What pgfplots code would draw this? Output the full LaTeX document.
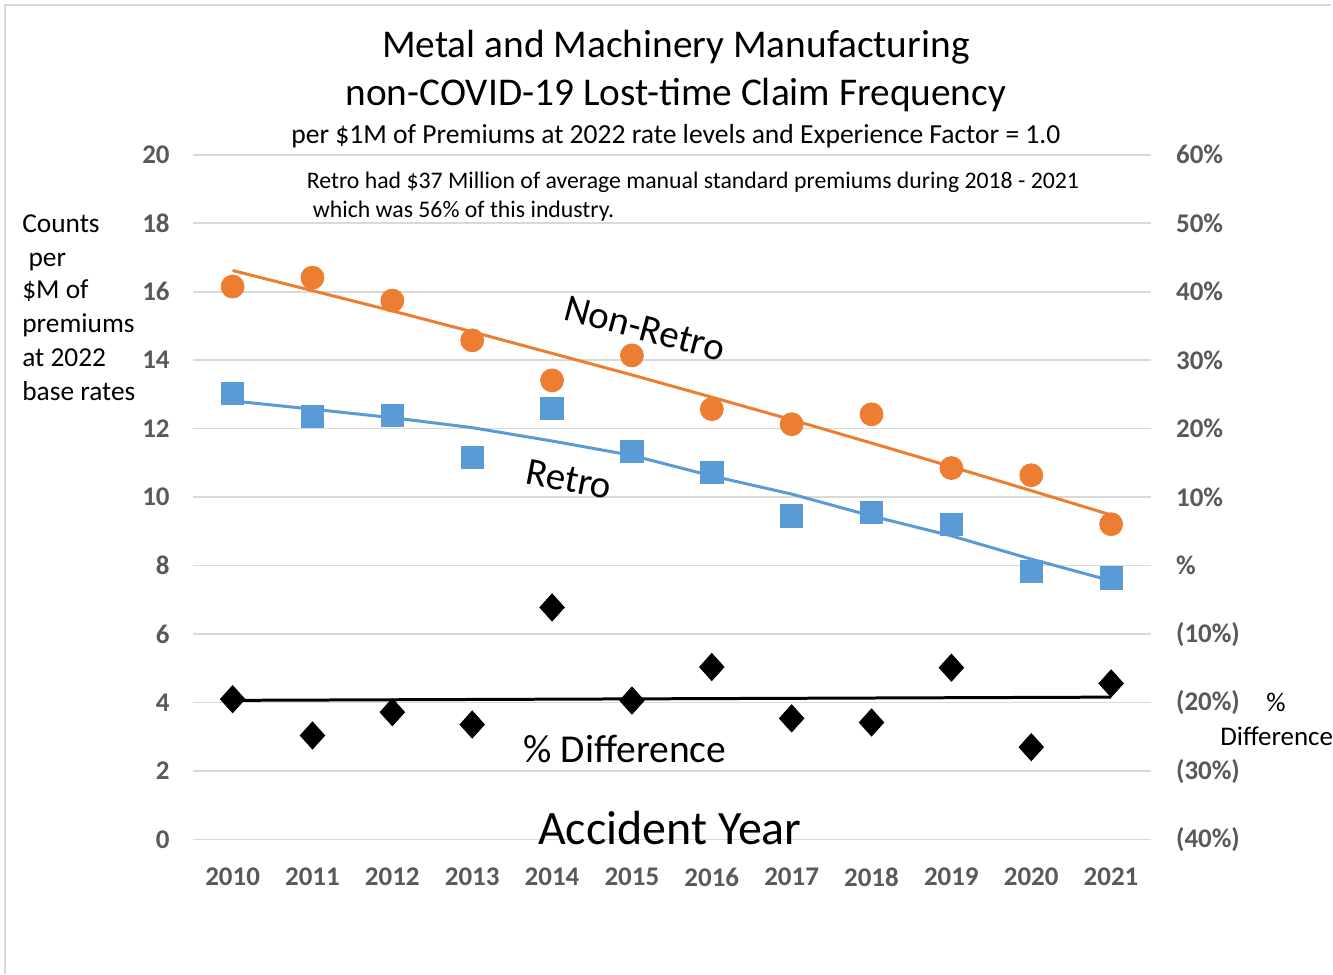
\documentclass[border=0pt]{standalone}
\usepackage{pgfplots}
\pgfplotsset{compat=1.18}
\usepackage{fontspec}
\setmainfont{Carlito}
\definecolor{cOrange}{HTML}{ED7D31}
\definecolor{cBlue}{HTML}{5B9BD5}
\definecolor{cGrid}{HTML}{D9D9D9}
\definecolor{cTick}{HTML}{595959}
\begin{document}
\begin{tikzpicture}
\begin{scope}[x=0.5pt,y=0.5pt]
\useasboundingbox (0,0) rectangle (1333,976);
\draw[cGrid, line width=0.8pt] (5,0) -- (5,971) -- (1333,971);
\end{scope}
\begin{axis}[
  at={(96.5pt,67.5pt)}, anchor=south west,
  scale only axis, width=480pt, height=343pt,
  xmin=2009.5, xmax=2021.5, ymin=0, ymax=20,
  ytick={0,2,...,20}, xtick={2010,...,2021},
  axis line style={draw=none}, major tick length=0pt,
  ymajorgrids, grid style={cGrid, line width=0.8pt},
  /pgf/number format/assume math mode=true,
  /pgf/number format/1000 sep={},
  ticklabel style={font=\fontsize{13.5}{16}\selectfont\bfseries, text=cTick},
  yticklabel style={xshift=-8pt},
  xticklabel style={yshift=-10.5pt},
  clip=false,
]
\addplot[cOrange, only marks, mark=*, mark size=5.75pt, mark options={fill=cOrange, draw=cOrange}] coordinates {
(2010,16.15) (2011,16.41) (2012,15.74) (2013,14.58) (2014,13.41) (2015,14.14)
(2016,12.57) (2017,12.13) (2018,12.42) (2019,10.85) (2020,10.64) (2021,9.21)};
\addplot[cBlue, only marks, mark=square*, mark size=5.6pt, mark options={fill=cBlue, draw=cBlue}] coordinates {
(2010,13.03) (2011,12.36) (2012,12.39) (2013,11.17) (2014,12.59) (2015,11.34)
(2016,10.73) (2017,9.45) (2018,9.56) (2019,9.21) (2020,7.84) (2021,7.64)};
\addplot[cOrange, line width=1.5pt, no marks] coordinates {
(2010,16.62) (2011,16.03) (2012,15.44) (2013,14.83) (2014,14.20) (2015,13.57)
(2016,12.92) (2017,12.26) (2018,11.58) (2019,10.89) (2020,10.19) (2021,9.48)};
\addplot[cBlue, line width=1.5pt, no marks] coordinates {
(2010,12.81) (2011,12.57) (2012,12.32) (2013,12.03) (2014,11.64) (2015,11.22)
(2016,10.62) (2017,10.09) (2018,9.45) (2019,8.87) (2020,8.19) (2021,7.56)};
\end{axis}
\begin{axis}[
  at={(96.5pt,67.5pt)}, anchor=south west,
  scale only axis, width=480pt, height=343pt,
  xmin=2009.5, xmax=2021.5, ymin=-40, ymax=60,
  axis y line*=right, hide x axis,
  axis line style={draw=none}, major tick length=0pt,
  ytick={-40,-30,...,60},
  yticklabels={(40\%),(30\%),(20\%),(10\%),\%,10\%,20\%,30\%,40\%,50\%,60\%},
  ticklabel style={font=\fontsize{13.5}{16}\selectfont\bfseries, text=cTick},
  yticklabel style={xshift=9pt, anchor=west},
  clip=false,
]
\addplot[black, only marks, mark=diamond*, mark size=6.8pt, mark options={fill=black, draw=black, xscale=1.2}] coordinates {
(2010,-19.5) (2011,-24.8) (2012,-21.4) (2013,-23.2) (2014,-6.1) (2015,-19.7)
(2016,-14.8) (2017,-22.3) (2018,-22.9) (2019,-14.9) (2020,-26.5) (2021,-17.2)};
\addplot[black, line width=1.5pt, no marks] coordinates {(2010,-19.67) (2021,-19.2)};
\end{axis}
\begin{scope}[x=0.5pt,y=0.5pt]
\node[font=\fontsize{19.7}{24}\selectfont] at (677,929) {Metal and Machinery Manufacturing};
\node[font=\fontsize{19.7}{24}\selectfont] at (677,881) {non-COVID-19 Lost-time Claim Frequency};
\node[font=\fontsize{13.8}{16}\selectfont] at (677,840) {per \$1M of Premiums at 2022 rate levels and Experience Factor = 1.0};
\node[font=\fontsize{11.9}{14}\selectfont, anchor=west, inner sep=0pt] at (307,793) {Retro had \$37 Million of average manual standard premiums during 2018 - 2021};
\node[font=\fontsize{11.9}{14}\selectfont, anchor=west, inner sep=0pt] at (313,764) {which was 56\% of this industry.};
\node[font=\fontsize{19.5}{22}\selectfont, rotate=-15, inner sep=0pt] at (646,647) {Non-Retro};
\node[font=\fontsize{19.5}{22}\selectfont, rotate=-11, inner sep=0pt] at (570,496) {Retro};
\node[font=\fontsize{19.8}{22}\selectfont] at (626,226) {\% Difference};
\node[font=\fontsize{24}{28}\selectfont] at (671,147) {Accident Year};
\begin{scope}[every node/.style={font=\fontsize{13.7}{16}\selectfont, anchor=base west, inner sep=0pt}]
\node at (22,743) {Counts};
\node at (22,709) {\ per};
\node at (22,677) {\$M of};
\node at (22,643) {premiums};
\node at (22,609) {at 2022};
\node at (22,575) {base rates};
\end{scope}
\begin{scope}[every node/.style={font=\fontsize{13.5}{16}\selectfont, anchor=base west, inner sep=0pt}]
\node at (1268,263) {\%};
\node at (1222,229) {Difference};
\end{scope}
\end{scope}
\end{tikzpicture}
\end{document}
